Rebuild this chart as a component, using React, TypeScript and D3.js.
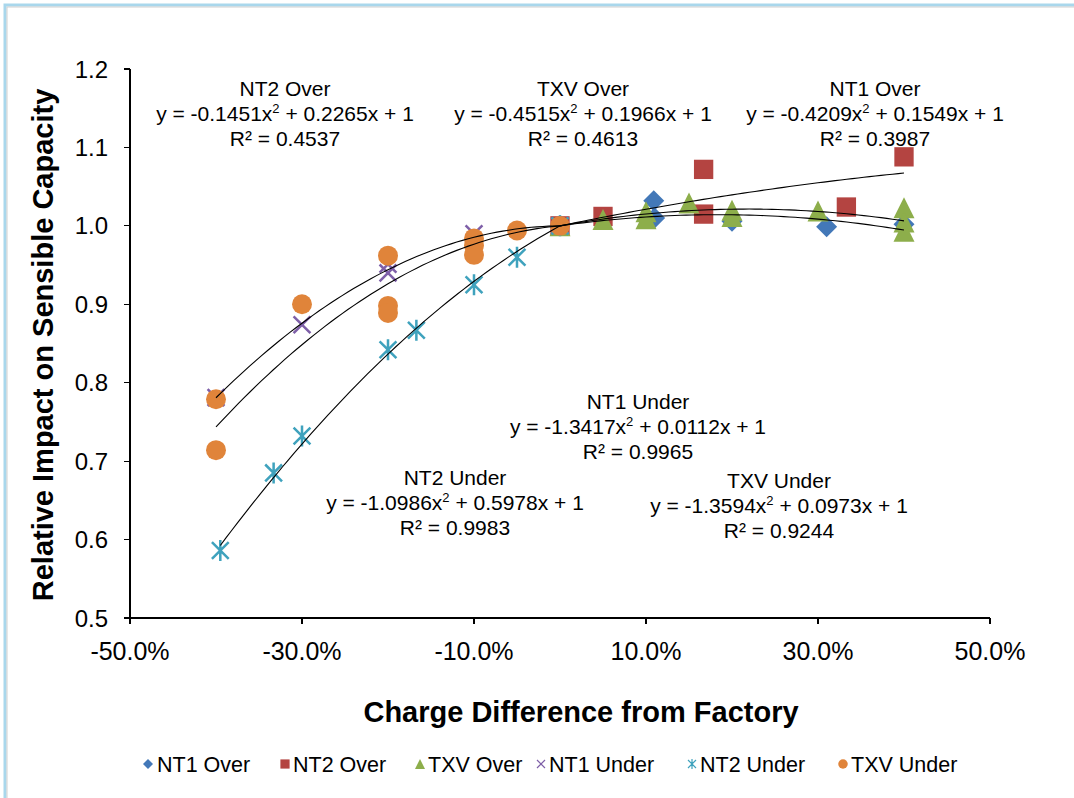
import React from "react";
import * as d3 from "d3";

// Charge difference (fraction) and relative sensible capacity per system
const nt1OverX = [0, 0.109, 0.11, 0.2, 0.31, 0.4];
const nt1OverY = [1.0, 1.032, 1.01, 1.006, 0.999, 1.002];

const nt2OverX = [0, 0.05, 0.167, 0.167, 0.333, 0.4];
const nt2OverY = [1.0, 1.012, 1.072, 1.015, 1.024, 1.088];

const txvOverX = [0, 0.05, 0.1, 0.1, 0.15, 0.2, 0.2, 0.3, 0.4, 0.4, 0.4];
const txvOverY = [1.0, 1.008, 1.018, 1.009, 1.029, 1.02, 1.012, 1.019, 1.023, 1.005, 0.993];

const nt1UnderX = [-0.4, -0.3, -0.2, -0.2, -0.1, 0];
const nt1UnderY = [0.781, 0.874, 0.951, 0.94, 0.99, 1.0];

const nt2UnderX = [-0.395, -0.333, -0.3, -0.2, -0.167, -0.1, -0.05, 0];
const nt2UnderY = [0.586, 0.685, 0.732, 0.842, 0.867, 0.925, 0.96, 1.0];

const txvUnderX = [-0.4, -0.4, -0.3, -0.2, -0.2, -0.2, -0.1, -0.1, -0.1, -0.05, 0];
const txvUnderY = [0.779, 0.714, 0.9, 0.962, 0.898, 0.889, 0.984, 0.975, 0.963, 0.994, 1.0];

// Polynomial trendline coefficients [a, b, c] for y = a x^2 + b x + c
const nt1OverFit = [-0.4209, 0.1549, 1];
const nt2OverFit = [-0.1451, 0.2265, 1];
const txvOverFit = [-0.4515, 0.1966, 1];
const nt1UnderFit = [-1.3417, 0.0112, 1];
const nt2UnderFit = [-1.0986, 0.5978, 1];
const txvUnderFit = [-1.3594, 0.0973, 1];

const r2Values = ["0.3987", "0.4537", "0.4613", "0.9965", "0.9983", "0.9244"];
const seriesNames = ["NT1 Over", "NT2 Over", "TXV Over", "NT1 Under", "NT2 Under", "TXV Under"];

const xTickValues = [-0.5, -0.3, -0.1, 0.1, 0.3, 0.5];
const xTickLabels = ["-50.0%", "-30.0%", "-10.0%", "10.0%", "30.0%", "50.0%"];
const yTickValues = [0.5, 0.6, 0.7, 0.8, 0.9, 1.0, 1.1, 1.2];
const yTickLabels = ["0.5", "0.6", "0.7", "0.8", "0.9", "1.0", "1.1", "1.2"];

const FONT = "'Liberation Sans', Arial, Helvetica, sans-serif";

type Shape = "diamond" | "square" | "triangle" | "x" | "star" | "circle";

const series = [
  { name: seriesNames[0], xs: nt1OverX, ys: nt1OverY, fit: nt1OverFit, color: "#4378B8", shape: "diamond" as Shape },
  { name: seriesNames[1], xs: nt2OverX, ys: nt2OverY, fit: nt2OverFit, color: "#B44441", shape: "square" as Shape },
  { name: seriesNames[2], xs: txvOverX, ys: txvOverY, fit: txvOverFit, color: "#8DAE4B", shape: "triangle" as Shape },
  { name: seriesNames[3], xs: nt1UnderX, ys: nt1UnderY, fit: nt1UnderFit, color: "#7E5FA8", shape: "x" as Shape },
  { name: seriesNames[4], xs: nt2UnderX, ys: nt2UnderY, fit: nt2UnderFit, color: "#3FA2BD", shape: "star" as Shape },
  { name: seriesNames[5], xs: txvUnderX, ys: txvUnderY, fit: txvUnderFit, color: "#E0843A", shape: "circle" as Shape },
];

// Trendline equation blocks: title, coefficients, R², centre x and title baseline
const labelBlocks = [
  { title: "NT2 Over", fit: nt2OverFit, r2: r2Values[1], cx: 285, y: 96 },
  { title: "TXV Over", fit: txvOverFit, r2: r2Values[2], cx: 583, y: 96 },
  { title: "NT1 Over", fit: nt1OverFit, r2: r2Values[0], cx: 875, y: 96 },
  { title: "NT1 Under", fit: nt1UnderFit, r2: r2Values[3], cx: 638, y: 409 },
  { title: "NT2 Under", fit: nt2UnderFit, r2: r2Values[4], cx: 455, y: 485 },
  { title: "TXV Under", fit: txvUnderFit, r2: r2Values[5], cx: 779, y: 488 },
];

function Marker({ shape, color, s }: { shape: Shape; color: string; s: number }) {
  switch (shape) {
    case "diamond":
      return <path d={`M0,${-s}L${s},0L0,${s}L${-s},0Z`} fill={color} />;
    case "square":
      return <rect x={-s * 0.92} y={-s * 0.92} width={s * 1.84} height={s * 1.84} fill={color} />;
    case "triangle":
      return <path d={`M0,${-s}L${s},${s}L${-s},${s}Z`} fill={color} />;
    case "x":
      return (
        <path
          d={`M${-s * 0.8},${-s * 0.8}L${s * 0.8},${s * 0.8}M${-s * 0.8},${s * 0.8}L${s * 0.8},${-s * 0.8}`}
          stroke={color}
          strokeWidth={Math.max(1.2, s * 0.24)}
          fill="none"
        />
      );
    case "star":
      return (
        <path
          d={`M${-s * 0.8},${-s * 0.8}L${s * 0.8},${s * 0.8}M${-s * 0.8},${s * 0.8}L${s * 0.8},${-s * 0.8}M0,${-s}L0,${s}`}
          stroke={color}
          strokeWidth={Math.max(1.2, s * 0.24)}
          fill="none"
        />
      );
    default:
      return <circle r={s * 0.95} fill={color} />;
  }
}

function fmtCoef(v: number) {
  return (v < 0 ? "-" : "") + Math.abs(v).toFixed(4);
}

export default function App() {
  const x = d3.scaleLinear().domain([-0.5, 0.5]).range([130, 990]);
  const y = d3.scaleLinear().domain([0.5, 1.2]).range([618, 69]);

  const line = d3
    .line<[number, number]>()
    .x((d) => x(d[0]))
    .y((d) => y(d[1]))
    .curve(d3.curveLinear);

  const trendPath = (xs: number[], fit: number[]) => {
    const [lo, hi] = d3.extent(xs) as [number, number];
    const pts: [number, number][] = d3
      .range(0, 61)
      .map((i) => lo + ((hi - lo) * i) / 60)
      .map((v) => [v, fit[0] * v * v + fit[1] * v + fit[2]]);
    return line(pts) || "";
  };

  const legendItems = [
    { mx: 148, tx: 157 },
    { mx: 285, tx: 293 },
    { mx: 420, tx: 428 },
    { mx: 541, tx: 549 },
    { mx: 692, tx: 700 },
    { mx: 843, tx: 851 },
  ];

  return (
    <svg
      width={1074}
      height={798}
      style={{ position: "absolute", left: 0, top: 0, background: "#fff" }}
      fontFamily={FONT}
    >
      <rect x={0} y={0} width={1074} height={798} fill="#fff" />
      {/* frame */}
      <path d="M5,900L5,5L1100,5" fill="none" stroke="#A9D7EC" strokeWidth={3} />
      <path d="M7,900L7,7L1100,7" fill="none" stroke="#CFCFCF" strokeWidth={1} />

      {/* axes */}
      <g stroke="#000" strokeWidth={1.2} shapeRendering="crispEdges">
        <line x1={130} x2={130} y1={y(1.2)} y2={y(0.5)} />
        <line x1={x(-0.5)} x2={x(0.5)} y1={y(0.5)} y2={y(0.5)} />
        {yTickValues.map((v) => (
          <line key={"yt" + v} x1={124} x2={130} y1={y(v)} y2={y(v)} />
        ))}
        {xTickValues.map((v) => (
          <line key={"xt" + v} x1={x(v)} x2={x(v)} y1={y(0.5)} y2={y(0.5) + 6} />
        ))}
      </g>
      <g fontSize={24} fill="#000">
        {yTickValues.map((v, i) => (
          <text key={"yl" + v} x={108} y={y(v) + 8.5} textAnchor="end">
            {yTickLabels[i]}
          </text>
        ))}
      </g>
      <g fontSize={25} fill="#000">
        {xTickValues.map((v, i) => (
          <text key={"xl" + v} x={x(v)} y={660} textAnchor="middle">
            {xTickLabels[i]}
          </text>
        ))}
      </g>

      {/* axis titles */}
      <text x={581} y={722} textAnchor="middle" fontSize={29} fontWeight="bold">
        Charge Difference from Factory
      </text>
      <text
        transform="translate(53,345) rotate(-90)"
        textAnchor="middle"
        fontSize={29}
        fontWeight="bold"
      >
        Relative Impact on Sensible Capacity
      </text>

      {/* markers */}
      {series.map((s) => (
        <g key={s.name}>
          {s.xs.map((v, i) => (
            <g key={i} transform={`translate(${x(v)},${y(s.ys[i])})`}>
              <Marker shape={s.shape} color={s.color} s={10.5} />
            </g>
          ))}
        </g>
      ))}

      {/* trendlines */}
      {series.map((s) => (
        <path key={"tr" + s.name} d={trendPath(s.xs, s.fit)} fill="none" stroke="#000" strokeWidth={1.1} />
      ))}

      {/* equation labels */}
      <g fontSize={21} fill="#000" textAnchor="middle">
        {labelBlocks.map((b) => (
          <g key={b.title}>
            <text x={b.cx} y={b.y}>{b.title}</text>
            <text x={b.cx} y={b.y + 25}>
              {`y = ${fmtCoef(b.fit[0])}x`}
              <tspan fontSize={13} dy={-8}>2</tspan>
              <tspan dy={8}>{` + ${b.fit[1].toFixed(4)}x + ${b.fit[2]}`}</tspan>
            </text>
            <text x={b.cx} y={b.y + 50}>{`R² = ${b.r2}`}</text>
          </g>
        ))}
      </g>

      {/* legend */}
      <g fontSize={21.5} fill="#000">
        {series.map((s, i) => (
          <g key={"lg" + s.name}>
            <g transform={`translate(${legendItems[i].mx},764)`}>
              <Marker shape={s.shape} color={s.color} s={5} />
            </g>
            <text x={legendItems[i].tx} y={771.5}>{s.name}</text>
          </g>
        ))}
      </g>
    </svg>
  );
}
